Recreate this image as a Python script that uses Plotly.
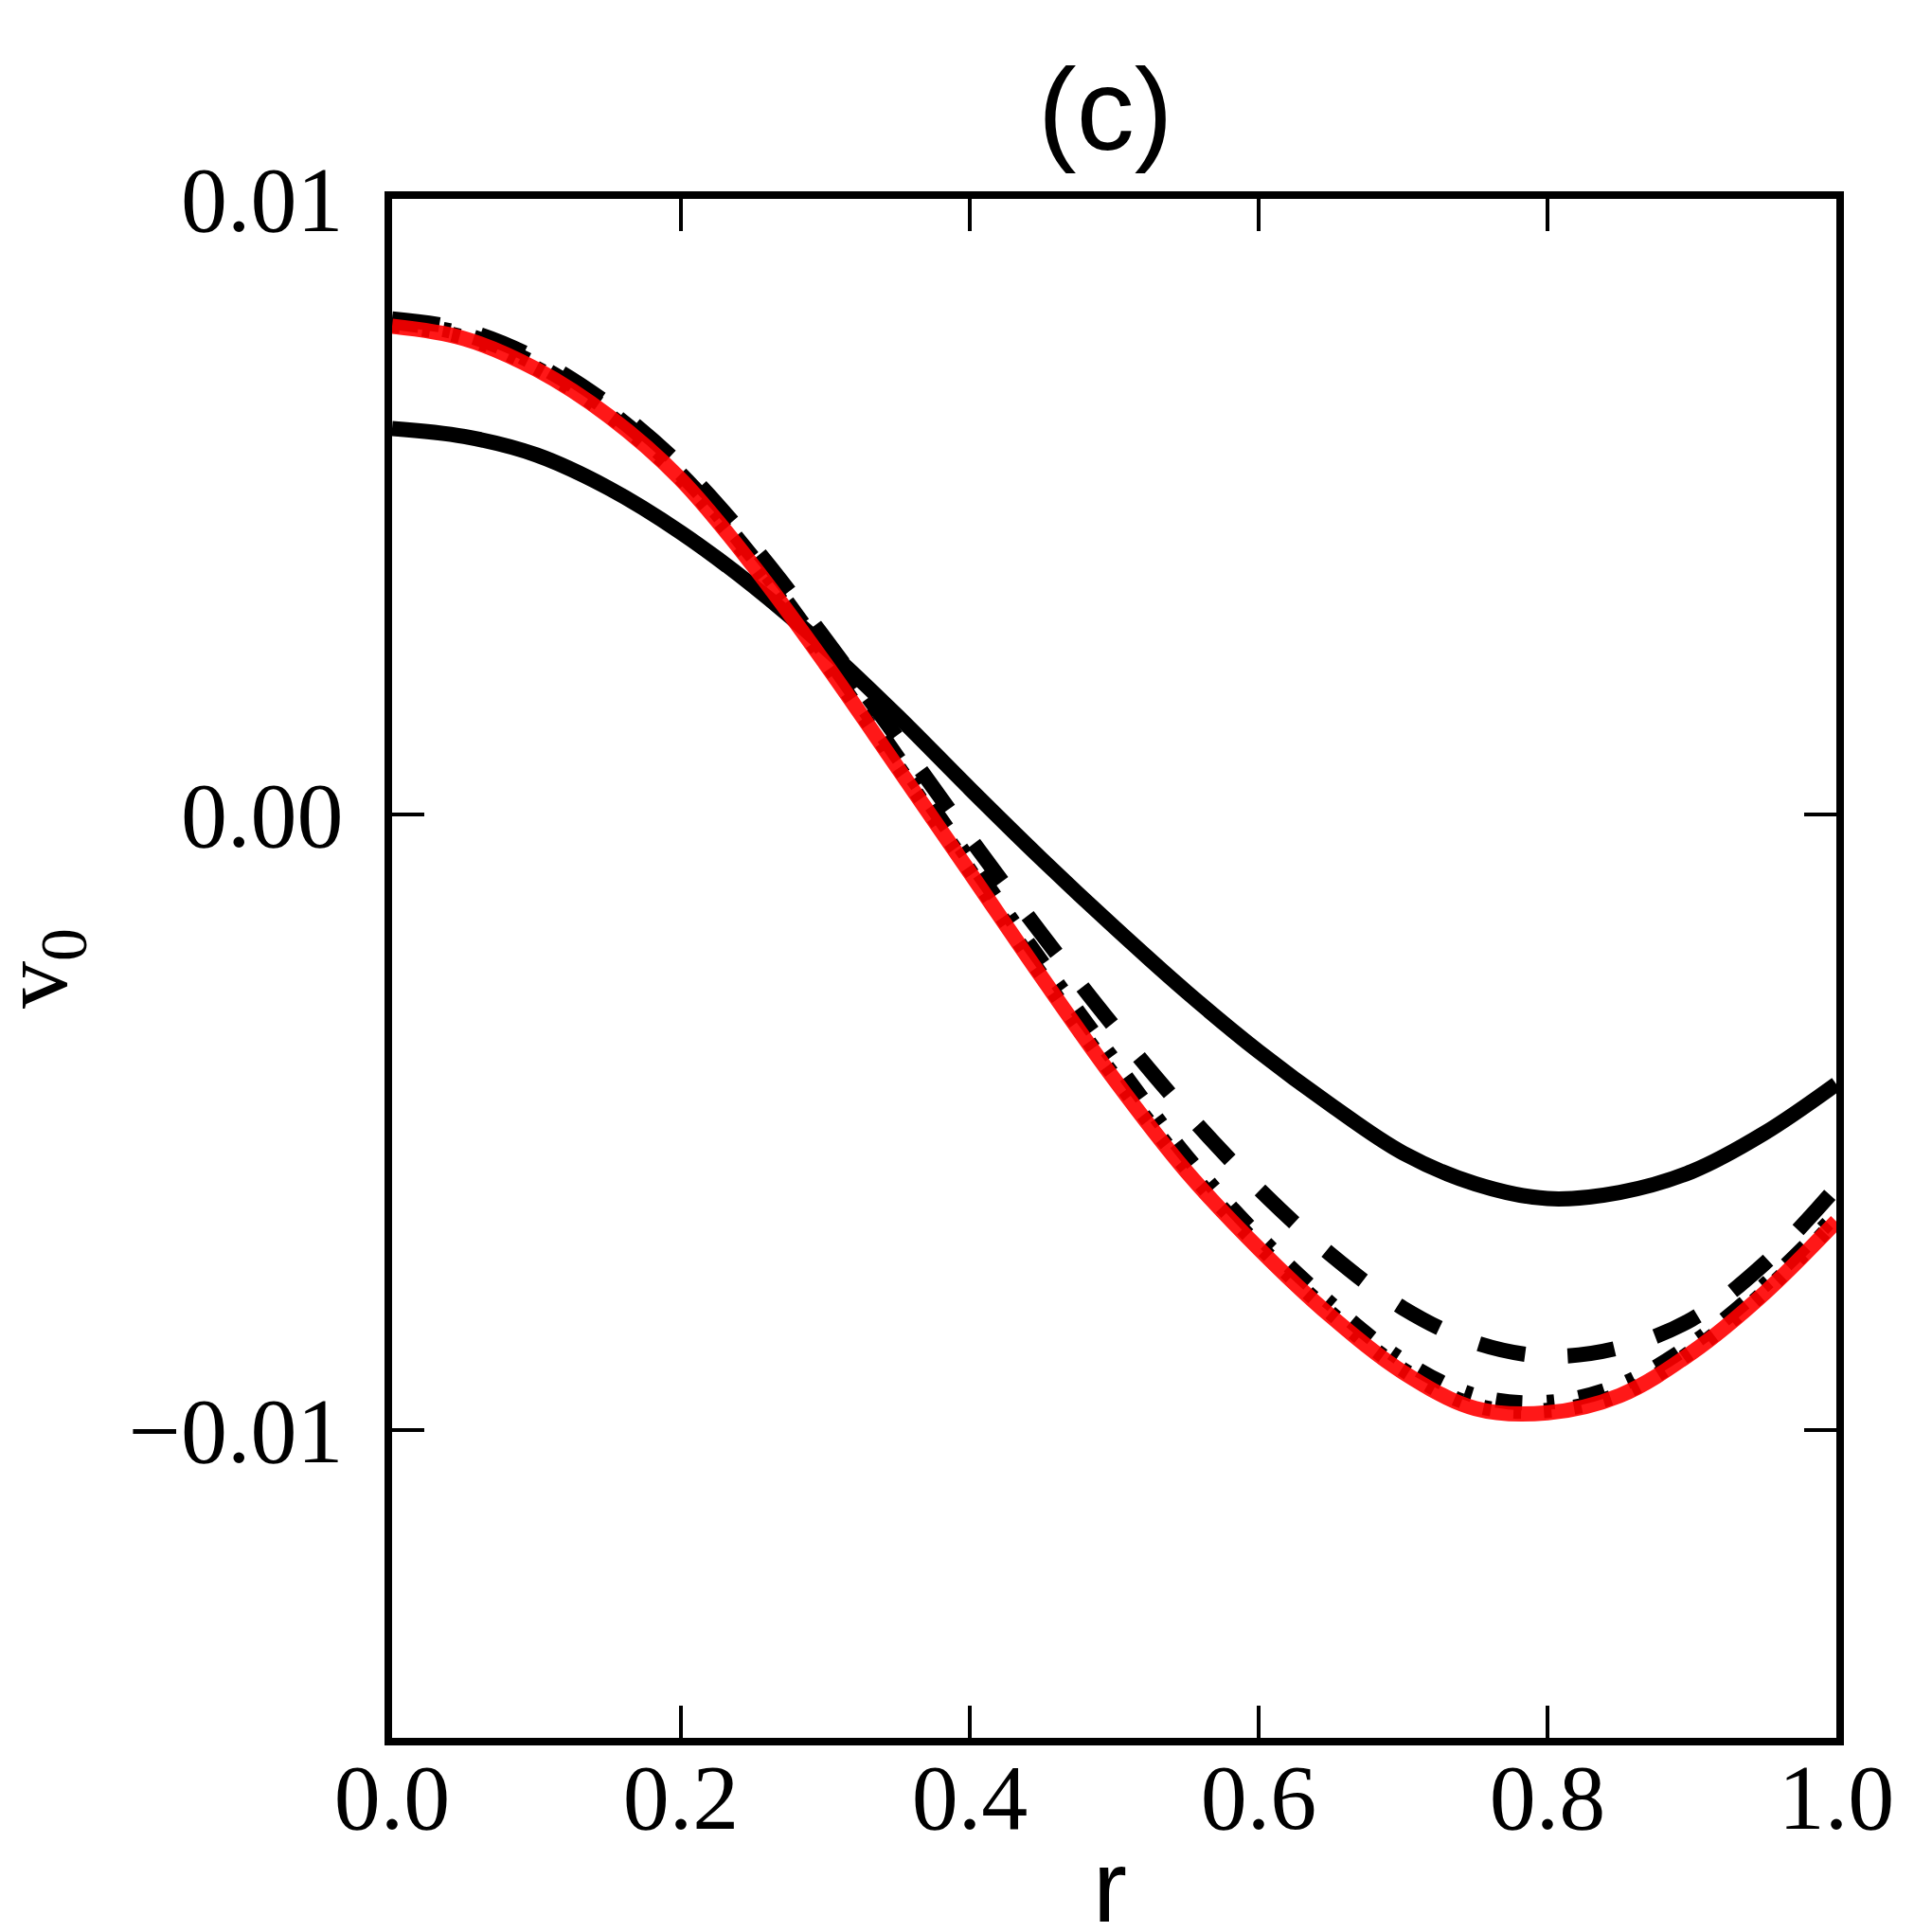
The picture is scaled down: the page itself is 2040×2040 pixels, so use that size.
import plotly.graph_objects as go

r = [0.0, 0.05, 0.1, 0.15, 0.2, 0.25, 0.3, 0.35, 0.4, 0.45, 0.5,
     0.55, 0.6, 0.65, 0.7, 0.75, 0.8, 0.85, 0.9, 0.95, 1.0]

v_solid = [0.00627, 0.00614, 0.00584, 0.00530, 0.00458, 0.00371, 0.00271, 0.00160, 0.00042, -0.00073, -0.00183,
           -0.00288, -0.00385, -0.00472, -0.00550, -0.00600, -0.00624, -0.00614, -0.00580, -0.00518, -0.00438]
v_dashed = [0.00805, 0.00787, 0.00740, 0.00666, 0.00566, 0.00436, 0.00285, 0.00124, -0.00038, -0.00195, -0.00345,
            -0.00484, -0.00608, -0.00715, -0.00802, -0.00858, -0.00880, -0.00866, -0.00820, -0.00730, -0.00606]
v_dashdot = [0.00800, 0.00780, 0.00731, 0.00656, 0.00553, 0.00417, 0.00260, 0.00093, -0.00075, -0.00240, -0.00400,
             -0.00555, -0.00685, -0.00795, -0.00887, -0.00944, -0.00955, -0.00927, -0.00860, -0.00765, -0.00650]
v_dotted = [0.00795, 0.00775, 0.00725, 0.00649, 0.00546, 0.00407, 0.00248, 0.00079, -0.00091, -0.00262, -0.00425,
            -0.00575, -0.00700, -0.00810, -0.00902, -0.00960, -0.00968, -0.00942, -0.00872, -0.00776, -0.00659]
v_red = [0.00793, 0.00773, 0.00723, 0.00647, 0.00544, 0.00404, 0.00245, 0.00076, -0.00094, -0.00265, -0.00430,
         -0.00580, -0.00705, -0.00815, -0.00906, -0.00965, -0.00972, -0.00944, -0.00874, -0.00778, -0.00661]

x_ticks = [0.0, 0.2, 0.4, 0.6, 0.8, 1.0]
x_ticklabels = ["0.0", "0.2", "0.4", "0.6", "0.8", "1.0"]
y_ticks = [-0.01, 0.0, 0.01]
y_ticklabels = ["\u22120.01", "0.00", "0.01"]

LW = 16
fig = go.Figure()
fig.add_trace(go.Scatter(x=r, y=v_solid, mode="lines", line=dict(color="black", width=LW, shape="spline")))
fig.add_trace(go.Scatter(x=r, y=v_dashed, mode="lines", line=dict(color="black", width=LW, shape="spline", dash="50px,45px")))
fig.add_trace(go.Scatter(x=r, y=v_dashdot, mode="lines", line=dict(color="black", width=LW, shape="spline", dash="28px,26px,8px,26px")))
fig.add_trace(go.Scatter(x=r, y=v_dotted, mode="lines", line=dict(color="black", width=LW, shape="spline", dash="8px,24px")))
fig.add_trace(go.Scatter(x=r, y=v_red, mode="lines", opacity=0.9, line=dict(color="#ff0000", width=LW, shape="spline")))

tickfont = dict(family="Liberation Serif", size=98, color="black")
axis_common = dict(showline=True, linewidth=8, linecolor="black", mirror="ticks",
                   ticks="inside", ticklen=34, tickwidth=4, tickcolor="black",
                   showgrid=False, zeroline=False, tickfont=tickfont)

fig.update_xaxes(range=[0, 1], tickvals=x_ticks, ticktext=x_ticklabels, ticklabelstandoff=-30, **axis_common)
fig.update_yaxes(range=[-0.015, 0.01], tickvals=y_ticks, ticktext=y_ticklabels, ticklabelstandoff=24, **axis_common)

fig.add_annotation(text="(c)", xref="paper", yref="paper", x=0.494, y=1.058,
                   xanchor="center", yanchor="middle", showarrow=False,
                   font=dict(family="Liberation Sans", size=122, color="black"))
fig.add_annotation(text="r", xref="paper", yref="paper", x=0.497, y=-0.096,
                   xanchor="center", yanchor="middle", showarrow=False,
                   font=dict(family="Liberation Sans", size=108, color="black"))
fig.add_annotation(text="v<sub>0</sub>", xref="paper", yref="paper", x=-0.243, y=0.50,
                   xanchor="center", yanchor="middle", showarrow=False, textangle=-90,
                   font=dict(family="Liberation Serif", size=100, color="black"))

fig.update_layout(width=2040, height=2040, showlegend=False,
                  paper_bgcolor="white", plot_bgcolor="white",
                  margin=dict(l=406, r=109, t=202, b=213))

fig.write_html("out.html")
